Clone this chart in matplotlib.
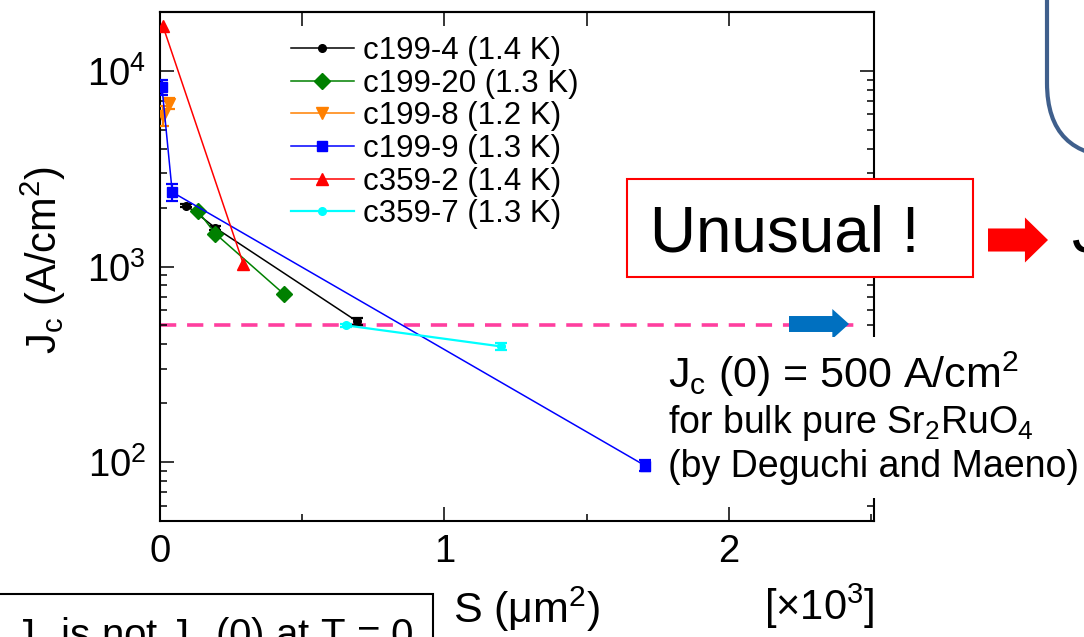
import matplotlib
matplotlib.use("Agg")
import matplotlib.pyplot as plt
from matplotlib.ticker import MultipleLocator, LogLocator, NullFormatter
from matplotlib.lines import Line2D
from matplotlib.patches import Rectangle, FancyBboxPatch

plt.rcParams['font.family'] = ['Liberation Sans', 'DejaVu Sans']
plt.rcParams['mathtext.fontset'] = 'custom'
plt.rcParams['mathtext.rm'] = 'Liberation Sans'
plt.rcParams['mathtext.it'] = 'Liberation Sans:italic'
plt.rcParams['mathtext.bf'] = 'Liberation Sans:bold'

# S in units of 10^3 um^2, Jc in A/cm^2
labels = ["c199-4 (1.4 K)", "c199-20 (1.3 K)", "c199-8 (1.2 K)",
          "c199-9 (1.3 K)", "c359-2 (1.4 K)", "c359-7 (1.3 K)"]

s_c199_4 = [0.093, 0.195, 0.692]
jc_c199_4 = [2050, 1575, 525]
err_c199_4 = [40, 40, 20]

s_c199_20 = [0.134, 0.195, 0.437]
jc_c199_20 = [1915, 1470, 720]

s_c199_8 = [0.012, 0.03]
jc_c199_8 = [5900, 6800]
err_c199_8 = [700, 450]

s_c199_9 = [0.007, 0.043, 1.705]
jc_c199_9 = [8250, 2400, 96]
err_c199_9 = [700, 230, 6]

s_c359_2 = [0.01, 0.293]
jc_c359_2 = [17000, 1030]

s_c359_7 = [0.654, 1.2]
jc_c359_7 = [500, 390]
err_c359_7 = [10, 14]

ref_jc = 500  # bulk Sr2RuO4

colors = ["black", "#008000", "#FF8000", "#0000FF", "#FF0000", "#00FFFF"]
markers = ["o", "D", "v", "s", "^", "o"]
msizes = [5.5, 8, 9, 6.5, 8, 5.5]
lws = [1.1, 1.1, 1.1, 1.1, 1.1, 1.6]

series = [
    (s_c199_4, jc_c199_4, err_c199_4),
    (s_c199_20, jc_c199_20, None),
    (s_c199_8, jc_c199_8, err_c199_8),
    (s_c199_9, jc_c199_9, err_c199_9),
    (s_c359_2, jc_c359_2, None),
    (s_c359_7, jc_c359_7, err_c359_7),
]

W, H = 1084, 637
fig = plt.figure(figsize=(W / 100, H / 100), dpi=100)
ax = fig.add_axes([160 / W, 1 - 521 / H, (874 - 160) / W, (521 - 12) / H])

ax.hlines(ref_jc, 0, 2.47, colors="#FF3F9F", linestyles=(0, (4.5, 3)), lw=2.6, zorder=1)

handles = []
for (x, y, e), c, m, ms, lw in zip(series, colors, markers, msizes, lws):
    ax.plot(x, y, color=c, marker=m, ms=ms, lw=lw, mec=c, zorder=3)
    if e is not None:
        ax.errorbar(x, y, yerr=e, fmt="none", ecolor=c, elinewidth=1.6, capsize=4, capthick=1.6, zorder=3)
    handles.append(Line2D([], [], color=c, marker=m, ms=ms, lw=lw))

ax.set_yscale("log")
ax.set_xlim(0, 2.51)
ax.set_ylim(50, 20000)

ax.xaxis.set_major_locator(MultipleLocator(1))
ax.xaxis.set_minor_locator(MultipleLocator(0.5))
ax.yaxis.set_major_locator(LogLocator(base=10))
ax.yaxis.set_minor_locator(LogLocator(base=10, subs=range(2, 10)))
ax.yaxis.set_minor_formatter(NullFormatter())

for sp in ax.spines.values():
    sp.set_linewidth(1.5)
ax.tick_params(axis="both", which="both", direction="in", width=1.1, labelsize=27.5)
ax.tick_params(axis="y", which="both", left=True, right=True)
ax.tick_params(axis="y", which="major", length=10, pad=10)
ax.tick_params(axis="y", which="minor", length=5)
ax.tick_params(axis="x", which="major", length=10, pad=9)
ax.tick_params(axis="x", which="minor", length=5)

top = ax.secondary_xaxis("top")
top.set_xticks([0.5, 1, 1.5, 2])
top.tick_params(direction="in", length=10, width=1.1, labeltop=False)
top.spines["top"].set_linewidth(1.5)

ax.legend(handles, labels, loc="upper left", bbox_to_anchor=(291 / W, 1 - 36 / H),
          bbox_transform=fig.transFigure, frameon=False, fontsize=22.5,
          handlelength=2.0, handletextpad=0.3, labelspacing=0.085,
          borderpad=0, borderaxespad=0, numpoints=1)

# axis labels
fig.text(43 / W, 1 - 260 / H, r"J$_\mathrm{c}$ (A/cm$^2$)", rotation=90,
         ha="center", va="center", fontsize=30)
fig.text(453 / W, 1 - 623 / H, r"S (μm$^2$)", ha="left", va="baseline", fontsize=31)
fig.text(764 / W, 1 - 620 / H, r"[×10$^3$]", ha="left", va="baseline", fontsize=30)

# white area behind the note hides the right spine there
fig.add_artist(Rectangle((655 / W, 1 - 498 / H), (W - 655) / W, (498 - 337) / H,
                         transform=fig.transFigure, facecolor="white", edgecolor="none", zorder=4))
fig.text(668 / W, 1 - 388 / H, r"J$_\mathrm{c}$ (0) = 500 A/cm$^2$", ha="left",
         va="baseline", fontsize=31, zorder=6)
fig.text(668 / W, 1 - 433 / H, r"for bulk pure Sr$_2$RuO$_4$", ha="left",
         va="baseline", fontsize=27, zorder=6)
fig.text(668 / W, 1 - 477 / H, "(by Deguchi and Maeno)", ha="left",
         va="baseline", fontsize=27, zorder=6)

# "Unusual !" box
fig.add_artist(Rectangle((627 / W, 1 - 277 / H), 346 / W, 98 / H, transform=fig.transFigure,
                         facecolor="white", edgecolor="#FF0000", lw=1.5, zorder=5))
fig.text(650 / W, 1 - 252 / H, "Unusual !", ha="left", va="baseline", fontsize=46, zorder=6)
fig.text(1072 / W, 1 - 252 / H, "J", ha="left", va="baseline", fontsize=46, zorder=6)

# arrows
ax.annotate("", xy=(1048, H - 240), xytext=(988, H - 240), xycoords="figure pixels",
            arrowprops=dict(arrowstyle="simple,head_length=1.66,head_width=3.24,tail_width=1.66",
                            mutation_scale=10, color="#FF0000", shrinkA=0, shrinkB=0, lw=0))
ax.annotate("", xy=(849, H - 324), xytext=(789, H - 324), xycoords="figure pixels",
            arrowprops=dict(arrowstyle="simple,head_length=1.2,head_width=2.16,tail_width=1.15",
                            mutation_scale=10, color="#0070C0", shrinkA=0, shrinkB=0, lw=0),
            annotation_clip=False)

# rounded box at top right (cut off)
fig.add_artist(FancyBboxPatch((1047 / 100, (H - 157) / 100), 3, 7,
                              boxstyle="round,pad=0,rounding_size=0.74",
                              transform=fig.dpi_scale_trans, facecolor="none",
                              edgecolor="#3F5F8C", lw=3))

# bottom-left box (cut off)
fig.add_artist(Rectangle((-0.01, -0.2), 0.01 + 433 / W, 0.2 + (H - 594) / H,
                         transform=fig.transFigure, facecolor="none", edgecolor="black", lw=1.5))
fig.text(14 / W, 1 - 647 / H, r"J$_\mathrm{c}$ is not J$_\mathrm{c}$ (0) at T = 0",
         ha="left", va="baseline", fontsize=29)

fig.savefig("out.png", dpi=100)
